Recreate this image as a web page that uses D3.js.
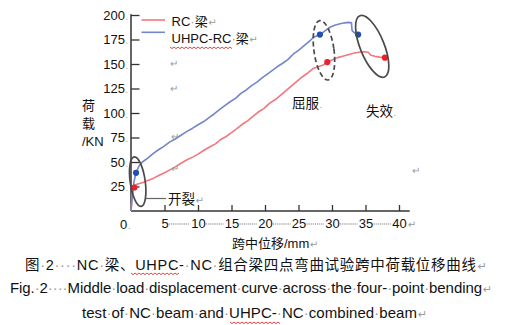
<!DOCTYPE html>
<html>
<head>
<meta charset="utf-8">
<script src="https://cdn.jsdelivr.net/npm/d3@7/dist/d3.min.js"></script>
<style>
  html, body { margin: 0; padding: 0; background: #fff; }
  svg { display: block; }
  text { font-family: "Liberation Sans", Arial, "Noto Sans CJK SC", sans-serif; }
</style>
</head>
<body>
<svg id="chart" width="508" height="325"></svg>
<script>
// Mid-span load–displacement data (displacement in mm, load in kN)
const rcDisp = [0, 0.1, 0.25, 0.45, 1.0, 1.8, 2.6, 3.4, 4.2, 5.0, 5.8, 6.6, 7.4, 8.3, 9.2, 10.0, 10.9, 11.8, 12.6, 13.4, 14.2, 15.0, 15.8, 16.6, 17.4, 18.2, 19.0, 19.8, 20.7, 21.5, 22.3, 23.1, 24.0, 24.8, 25.6, 26.4, 27.2, 28.0, 28.7, 29.3, 30.0, 30.8, 31.6, 32.4, 33.2, 34.0, 34.8, 35.4, 35.8, 36.4, 37.1, 37.9];
const rcLoad = [0, 10, 22, 26, 27.5, 29, 31.5, 33.5, 36.5, 39, 42, 45, 48.5, 52, 55, 58, 62, 65.5, 68.5, 73, 76, 80, 84, 88.5, 92, 96.5, 101, 104.5, 110, 113.5, 118, 122.5, 128, 132.5, 137, 141, 145.5, 147.5, 149, 152, 154, 156.5, 158, 159.5, 161, 162, 162.5, 162, 159, 158, 157, 156.5];

const uhpcDisp = [0, 0.2, 0.45, 0.75, 1.2, 1.7, 2.5, 3.3, 4.1, 4.9, 5.8, 6.6, 7.4, 8.3, 9.2, 10.0, 10.8, 11.6, 12.4, 13.3, 14.0, 14.8, 15.6, 16.4, 17.2, 18.0, 18.8, 19.6, 20.4, 21.2, 22.0, 22.7, 23.4, 24.2, 25.0, 25.8, 26.6, 27.2, 28.2, 29.0, 29.7, 30.4, 31.2, 31.9, 32.5, 32.9, 33.0, 33.4, 33.9];
const uhpcLoad = [0, 15, 30, 39, 46, 50, 54, 58.5, 62.5, 66, 70.5, 73.5, 77, 81, 84.5, 88, 91, 95, 99, 104, 107.5, 111.5, 115, 120, 123.5, 128, 131.5, 136, 140, 144, 148, 151, 154.5, 160, 164, 168.5, 173, 177, 180, 184, 187.5, 189.5, 191, 192, 192.5, 192, 184, 181.5, 180];

// Characteristic points: cracking, yield, failure
const rcPoints = [[0.5, 24], [29.3, 152], [37.9, 156.5]];
const uhpcPoints = [[0.75, 39], [28.2, 180], [33.9, 180]];

const xTicks = [5, 10, 15, 20, 25, 30, 35, 40];
const yTicks = [25, 50, 75, 100, 125, 150, 175, 200];
const seriesNames = ["RC·梁", "UHPC-RC·梁"];
const stageLabels = ["开裂", "屈服", "失效"];
const xTitle = "跨中位移/mm";
const yTitle = ["荷", "载", "/KN"];
const captionLines = [
  "图·2····NC·梁、UHPC-·NC·组合梁四点弯曲试验跨中荷载位移曲线",
  "Fig.·2····Middle·load·displacement·curve·across·the·four-·point·bending",
  "test·of·NC·beam·and·UHPC-·NC·combined·beam"
];

const RED = "#f2777c", BLUE = "#7186cc";
const RED_DOT = "#e8212b", BLUE_DOT = "#2150b3";
const MARK = "#9a9a9a";

const svg = d3.select("#chart");
const x = d3.scaleLinear().domain([0, 40]).range([131, 399]);
const y = d3.scaleLinear().domain([0, 200]).range([211, 15]);

// text with Word-style space markers drawn in grey
function marked(sel, str) {
  str.split(/(·+)/).forEach(p => {
    if (!p) return;
    sel.append("tspan").attr("fill", p[0] === "·" ? MARK : "#111").text(p);
  });
  return sel;
}
// trailing paragraph mark / tiny dot, kept inside the same text element
function tail(sel, glyph, size, dx) {
  sel.append("tspan").attr("fill", MARK).attr("font-size", size)
    .attr("font-family", "DejaVu Sans").attr("dx", dx || 0).text(glyph);
  return sel;
}
function para(xp, yp, size) {
  svg.append("text").attr("x", xp).attr("y", yp).attr("font-size", size || 10)
    .attr("fill", MARK).attr("font-family", "DejaVu Sans").text("↵");
}
function wavy(x0, x1, yy) {
  let d = `M${x0},${yy}`;
  for (let xx = x0, i = 0; xx < x1; xx += 2, i++) d += `L${xx + 2},${yy + (i % 2 ? 0 : 1.6)}`;
  svg.append("path").attr("d", d).attr("fill", "none").attr("stroke", "#e03030").attr("stroke-width", 0.9);
}

// ---- axes ----
const xAxis = d3.axisBottom(x).tickValues(xTicks).tickSizeInner(-6).tickSizeOuter(0).tickPadding(8);
const gx = svg.append("g").attr("transform", `translate(0,${y(0)})`).call(xAxis);
gx.select(".domain").remove();
gx.selectAll(".tick line").attr("stroke", "#333").attr("stroke-width", 1.3);
gx.selectAll(".tick text").attr("font-size", 13).attr("fill", "#111");
gx.selectAll(".tick text").filter(d => d === 40).each(function () {
  tail(d3.select(this).attr("text-anchor", "start").attr("x", -7.3), "↵", 10, 1);
});

// dotted fillers between the x tick labels
for (let i = 0; i < xTicks.length - 1; i++) {
  const a = x(xTicks[i]) + (xTicks[i] < 10 ? 4.5 : 8);
  const b = x(xTicks[i + 1]) - 8;
  svg.append("line").attr("x1", a).attr("x2", b).attr("y1", 224).attr("y2", 224)
    .attr("stroke", "#a8a8a8").attr("stroke-width", 1.6).attr("stroke-dasharray", "1.2,0.9");
}
tail(svg.append("text").attr("x", 120).attr("y", 229).attr("font-size", 13).attr("fill", "#111").text("0"), ".", 9, 0.5);

svg.append("line").attr("x1", x(0)).attr("x2", x(41.6)).attr("y1", y(0)).attr("y2", y(0))
  .attr("stroke", "#333").attr("stroke-width", 1.5);

const yAxis = d3.axisLeft(y).tickValues(yTicks).tickSizeInner(-8.5).tickSizeOuter(0).tickPadding(3);
const gy = svg.append("g").attr("transform", `translate(${x(0)},0)`).call(yAxis);
gy.select(".domain").remove();
gy.selectAll(".tick line").attr("stroke", "#333").attr("stroke-width", 1.3);
gy.selectAll(".tick text").attr("font-size", 13).attr("fill", "#111").attr("x", -3)
  .each(function (d) {
    const t = d3.select(this).text(null);
    t.append("tspan").text(d);
    tail(t, ".", 8, 0.5);
  });
svg.append("line").attr("x1", x(0)).attr("x2", x(0)).attr("y1", y(0)).attr("y2", y(200) - 0.8)
  .attr("stroke", "#333").attr("stroke-width", 1.5);

// axis titles
yTitle.forEach((t, i) => {
  svg.append("text").attr("x", 82).attr("y", 110 + i * 18).attr("font-size", 13).attr("fill", "#111").text(t);
});
tail(svg.append("text").attr("x", 232).attr("y", 248).attr("font-size", 13).attr("fill", "#111").text(xTitle), "↵", 10, 0.5);

// ---- curves ----
const line = d3.line().x(d => x(d[0])).y(d => y(d[1])).curve(d3.curveLinear);
const rc = rcDisp.map((d, i) => [d, rcLoad[i]]);
const uhpc = uhpcDisp.map((d, i) => [d, uhpcLoad[i]]);
svg.append("path").datum(rc).attr("d", line).attr("fill", "none")
  .attr("stroke", RED).attr("stroke-width", 1.6).attr("stroke-linejoin", "round");
svg.append("path").datum(uhpc).attr("d", line).attr("fill", "none")
  .attr("stroke", BLUE).attr("stroke-width", 1.6).attr("stroke-linejoin", "round");

svg.selectAll(".rcpt").data(rcPoints).join("circle")
  .attr("cx", d => x(d[0])).attr("cy", d => y(d[1])).attr("r", 3.1).attr("fill", RED_DOT);
svg.selectAll(".upt").data(uhpcPoints).join("circle")
  .attr("cx", d => x(d[0])).attr("cy", d => y(d[1])).attr("r", 3.1).attr("fill", BLUE_DOT);

// ---- stage ellipses ----
const rings = [
  { cx: 1.0, cy: 30, rx: 7.5, ry: 25, rot: -8, dash: null },
  { cx: 28.8, cy: 164, rx: 10, ry: 30, rot: -8, dash: "5,3" },
  { cx: 36.0, cy: 168, rx: 12, ry: 33, rot: -22, dash: null }
];
rings.forEach(r => {
  svg.append("ellipse")
    .attr("transform", `translate(${x(r.cx)},${y(r.cy)}) rotate(${r.rot})`)
    .attr("rx", r.rx).attr("ry", r.ry).attr("fill", "none")
    .attr("stroke", "#4a4a4a").attr("stroke-width", 1.7)
    .attr("stroke-dasharray", r.dash);
});

// stage labels
svg.append("line").attr("x1", 146).attr("x2", 166).attr("y1", 198.5).attr("y2", 198.5)
  .attr("stroke", "#666").attr("stroke-width", 1.2);
tail(svg.append("text").attr("x", 168).attr("y", 203.5).attr("font-size", 13.5).attr("fill", "#111").text(stageLabels[0]), "↵", 10, 0.5);
tail(svg.append("text").attr("x", 292).attr("y", 108).attr("font-size", 13.5).attr("fill", "#111").text(stageLabels[1]), ".", 8, 0.5);
tail(svg.append("text").attr("x", 366).attr("y", 115.5).attr("font-size", 13.5).attr("fill", "#111").text(stageLabels[2]), ".", 8, 0.5);

// ---- legend ----
svg.append("line").attr("x1", 141.5).attr("x2", 165).attr("y1", 20).attr("y2", 20)
  .attr("stroke", RED).attr("stroke-width", 1.6);
svg.append("line").attr("x1", 141.5).attr("x2", 165).attr("y1", 32.3).attr("y2", 32.3)
  .attr("stroke", BLUE).attr("stroke-width", 1.6);
tail(marked(svg.append("text").attr("x", 171.5).attr("y", 26.3).attr("font-size", 13), seriesNames[0]), "↵", 10, 0.5);
tail(marked(svg.append("text").attr("x", 171.5).attr("y", 42.5).attr("font-size", 13), seriesNames[1]), "↵", 10, 0.5);
wavy(170, 231, 47);

// stray paragraph marks in the text flow
[[170, 67], [170, 92], [171, 140], [171, 172], [412, 174]].forEach(p => para(p[0], p[1], 10));

// ---- caption ----
const cap1 = svg.append("text").attr("x", 25).attr("y", 270).attr("font-size", 14.5);
marked(cap1.append("tspan").attr("textLength", 451).attr("lengthAdjust", "spacing"), captionLines[0]);
tail(cap1, "↵", 11, 1);
wavy(131, 178, 273);
const cap2 = svg.append("text").attr("x", 10).attr("y", 293).attr("font-size", 15);
marked(cap2.append("tspan").attr("textLength", 472).attr("lengthAdjust", "spacing"), captionLines[1]);
tail(cap2, "↵", 11, 1);
const cap3 = svg.append("text").attr("x", 82).attr("y", 318).attr("font-size", 15);
marked(cap3.append("tspan").attr("textLength", 335).attr("lengthAdjust", "spacing"), captionLines[2]);
tail(cap3, "↵", 11, 1);
wavy(230, 280, 322);
</script>
</body>
</html>
